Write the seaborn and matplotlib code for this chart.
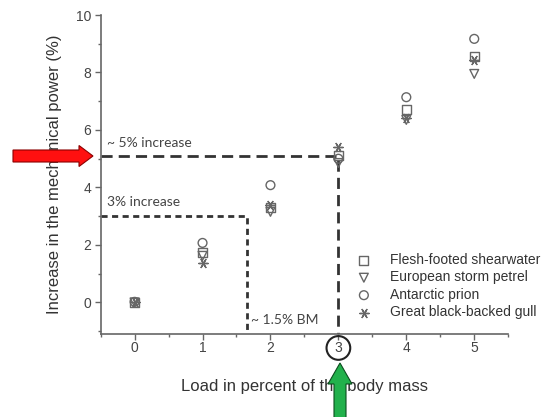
import matplotlib
matplotlib.use("Agg")
import matplotlib.pyplot as plt
from matplotlib.patches import FancyArrow
import numpy as np
import pandas as pd
import seaborn as sns

# values
load = [0, 1, 2, 3, 4, 5]
shearwater = [0.0, 1.75, 3.3, 5.1, 6.7, 8.55]
storm_petrel = [0.0, 1.62, 3.15, 4.85, 6.35, 7.95]
prion = [0.02, 2.07, 4.08, 5.0, 7.14, 9.17]
gull = [0.0, 1.37, 3.38, 5.42, 6.4, 8.43]

species = ["Flesh-footed shearwater", "European storm petrel",
           "Antarctic prion", "Great black-backed gull"]
series = [shearwater, storm_petrel, prion, gull]
markers = ["s", "v", "o", (6, 2, 90)]

# threshold guide lines
five_pct = 5.1
three_pct = 3.0
three_pct_load = 1.65

rows = []
for sp, vals in zip(species, series):
    for x, y in zip(load, vals):
        rows.append({"load": x, "increase": y, "species": sp})
df = pd.DataFrame(rows)

sns.set_style("ticks")
plt.rcParams["font.family"] = ["Liberation Sans", "DejaVu Sans"]

fig = plt.figure(figsize=(5.53, 4.17), dpi=100)
ax = fig.add_axes([0.182, 0.199, 0.737, 0.765])

grey = "#666666"
for sp, mk in zip(species, markers):
    sub = df[df["species"] == sp]
    if mk == (6, 2, 90):
        sns.scatterplot(data=sub, x="load", y="increase", marker=mk, s=45,
                        color=grey, linewidth=1.0, label=sp, ax=ax, zorder=3)
    else:
        sns.scatterplot(data=sub, x="load", y="increase", marker=mk, s=40,
                        facecolor="none", edgecolor=grey, linewidth=1.0,
                        label=sp, ax=ax, zorder=3)

xmin, xmax = -0.5, 5.5
ymin, ymax = -1.1, 10
ax.set_xlim(xmin, xmax)
ax.set_ylim(ymin, ymax)

# dashed guides
ax.plot([xmin, 3, 3], [five_pct, five_pct, ymin], color="#333333", lw=2,
        dashes=(4, 2.2), zorder=2)
ax.plot([xmin, three_pct_load, three_pct_load], [three_pct, three_pct, ymin],
        color="#333333", lw=2, dashes=(2.2, 1.6), zorder=2)

ax.text(-0.4, 5.55, "~ 5% increase", fontsize=10, color="#444444",
        family=["Lato", "DejaVu Sans"], va="center")
ax.text(-0.4, 3.5, "3% increase", fontsize=10, color="#444444",
        family=["Lato", "DejaVu Sans"], va="center")
ax.text(1.72, -0.6, "~ 1.5% BM", fontsize=10, color="#444444",
        family=["Lato", "DejaVu Sans"], va="center")

ax.set_xticks(load)
ax.set_xticks(np.arange(-0.5, 5.6, 0.5), minor=True)
ax.set_yticks([0, 2, 4, 6, 8, 10])
ax.set_yticks(np.arange(-1, 10.1, 1), minor=True)
ax.tick_params(axis="both", which="major", length=4, width=1, color=grey,
               labelcolor="#444444", labelsize=10, pad=3)
ax.tick_params(axis="x", which="major", pad=1)
ax.tick_params(axis="both", which="minor", length=2.5, width=1, color=grey)
for s in ["left", "bottom"]:
    ax.spines[s].set_color(grey)
    ax.spines[s].set_linewidth(1.2)
sns.despine(ax=ax)

ax.set_xlabel("Load in percent of the body mass", fontsize=12, color="#333333",
              labelpad=17)
ax.set_ylabel("Increase in the mechanical power (%)", fontsize=12,
              color="#333333", labelpad=10)

# circle round the "3" tick label
for lab in ax.get_xticklabels():
    if lab.get_text() == "3":
        lab.set_bbox(dict(boxstyle="circle,pad=0.35", fc="none", ec="#222222",
                          lw=1.5))

leg = ax.legend(loc="lower right", bbox_to_anchor=(1.10, 0.02), frameon=False,
                fontsize=10, labelspacing=0.25, handletextpad=0.9,
                borderaxespad=0.2)
for t in leg.get_texts():
    t.set_color("#333333")

# the red and green highlight arrows (figure inches)
fig.patches.append(FancyArrow(0.13, 2.61, 0.80, 0, width=0.12, head_width=0.21,
                              head_length=0.14, length_includes_head=True,
                              fc="#ff1010", ec="#8b0000", lw=0.8,
                              transform=fig.dpi_scale_trans, figure=fig))
fig.patches.append(FancyArrow(3.40, -0.05, 0, 0.59, width=0.12, head_width=0.24,
                              head_length=0.21, length_includes_head=True,
                              fc="#22b14c", ec="#0b4d1e", lw=0.8,
                              transform=fig.dpi_scale_trans, figure=fig))

fig.savefig("out.png", dpi=100)
